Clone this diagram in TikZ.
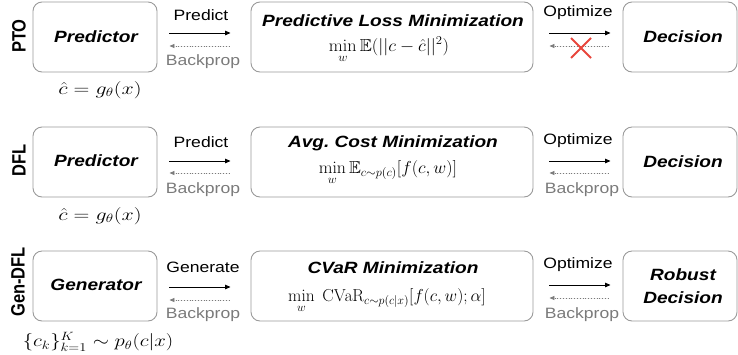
\documentclass[tikz,border=0pt]{standalone}
\usepackage[no-math]{fontspec}
\setmainfont{Liberation Sans}
\usepackage{amsmath,amssymb}
\usetikzlibrary{arrows.meta,shapes.misc}

\definecolor{boxgray}{HTML}{9A9A9A}
\definecolor{softgray}{HTML}{7A7A7A}
\definecolor{crossred}{HTML}{E8453C}

% slightly widened lettering
\newcommand{\wide}[1]{\scalebox{1.17}[1]{#1}}
\newcommand{\tall}[1]{\scalebox{1}[1.17]{#1}}
\newcommand{\mwide}[1]{\scalebox{1.27}[1]{#1}}

\tikzset{
  stage/.style={draw=boxgray, line width=0.9pt, rounded corners=9pt,
    minimum height=70pt, inner sep=0pt},
  predbox/.style={stage, minimum width=124pt},
  optbox/.style={stage, minimum width=282pt},
  decbox/.style={stage, minimum width=114pt},
  title/.style={font=\fontsize{16.3}{19}\selectfont\bfseries\itshape, inner sep=0pt},
  label/.style={font=\fontsize{15}{17}\selectfont, inner sep=0pt},
  backlabel/.style={label, text=softgray},
  method/.style={font=\fontsize{16.5}{19}\selectfont\bfseries, rotate=90, inner sep=0pt},
  boxmath/.style={font=\fontsize{17.28}{20}\selectfont, inner sep=0pt},
  outmath/.style={font=\fontsize{17.28}{20}\selectfont, inner sep=0pt},
  fwd/.style={-{Triangle[length=5.5pt,width=4.5pt]}, line width=0.9pt},
  bwd/.style={-{Triangle[length=5pt,width=4pt]}, draw=softgray, fill=softgray,
    line width=0.8pt, dotted},
}

\begin{document}
\begin{tikzpicture}[x=1pt,y=-1pt]
\useasboundingbox (0,0) rectangle (738,354);

% ---------- PTO ----------
\node[method] (m1) at (19,36) {\tall{PTO}};
\node[predbox] (p1) at (95,37) {};
\node[title] (p1t) at (96,37) {\wide{Predictor}};
\node[optbox] (o1) at (392,37) {};
\node[title] (o1t) at (393,21) {\wide{Predictive Loss Minimization}};
\node[boxmath] (o1m) at (389,50) {\scalebox{1.05}[1]{$\displaystyle\min_{w}\mathbb{E}(||c-\hat{c}||^2)$}};
\node[decbox] (d1) at (680,37) {};
\node[title] (d1t) at (683,37) {\wide{Decision}};
\node[outmath] (g1) at (100,90) {\mwide{$\hat{c}=g_\theta(x)$}};

\node[label] (a1) at (201,15) {\wide{Predict}};
\node[backlabel] (b1) at (203,62) {\wide{Backprop}};
\draw[fwd] ([yshift=4pt]p1.east) -- ([yshift=4pt]o1.west)
  [shorten <=12pt, shorten >=20pt];
\draw[bwd] ([yshift=-9pt]o1.west) -- ([yshift=-9pt]p1.east)
  [shorten <=21pt, shorten >=12pt];

\node[label] (c1) at (578,13) {\wide{Optimize}};
\draw[fwd] ([yshift=4pt]o1.east) -- ([yshift=4pt]d1.west)
  [shorten <=16pt, shorten >=12pt];
\draw[bwd] ([yshift=-9pt]d1.west) -- ([yshift=-9pt]o1.east)
  [shorten <=14pt, shorten >=16pt];
\node[cross out, draw=crossred, line width=2pt, minimum size=18pt,
  inner sep=0pt] (x1) at (581,48) {};

% ---------- DFL ----------
\node[method] (m2) at (19,160) {\tall{DFL}};
\node[predbox] (p2) at (95,162) {};
\node[title] (p2t) at (96,161) {\wide{Predictor}};
\node[optbox] (o2) at (392,162) {};
\node[title] (o2t) at (393,143) {\wide{Avg.\ Cost Minimization}};
\node[boxmath] (o2m) at (388,173) {\scalebox{1.03}[1]{$\displaystyle\min_{w}\mathbb{E}_{c\sim p(c)}[f(c,w)]$}};
\node[decbox] (d2) at (680,162) {};
\node[title] (d2t) at (683,162) {\wide{Decision}};
\node[outmath] (g2) at (100,216) {\mwide{$\hat{c}=g_\theta(x)$}};

\node[label] (a2) at (201,142) {\wide{Predict}};
\node[backlabel] (b2) at (203,190) {\wide{Backprop}};
\draw[fwd] ([yshift=1pt]p2.east) -- ([yshift=1pt]o2.west)
  [shorten <=12pt, shorten >=20pt];
\draw[bwd] ([yshift=-11pt]o2.west) -- ([yshift=-11pt]p2.east)
  [shorten <=21pt, shorten >=12pt];

\node[label] (c2) at (578,141) {\wide{Optimize}};
\node[backlabel] (e2) at (582,190) {\wide{Backprop}};
\draw[fwd] ([yshift=1pt]o2.east) -- ([yshift=1pt]d2.west)
  [shorten <=16pt, shorten >=12pt];
\draw[bwd] ([yshift=-11pt]d2.west) -- ([yshift=-11pt]o2.east)
  [shorten <=14pt, shorten >=16pt];

% ---------- Gen-DFL ----------
\node[method] (m3) at (18,282) {\tall{Gen-DFL}};
\node[predbox] (p3) at (95,286) {};
\node[title] (p3t) at (96,285) {\wide{Generator}};
\node[optbox] (o3) at (392,286) {};
\node[title] (o3t) at (393,268) {\wide{CVaR Minimization}};
\node[boxmath] (o3m) at (387,301) {$\displaystyle\min_{w}\ \mathrm{CVaR}_{c\sim p(c|x)}[f(c,w);\alpha]$};
\node[decbox] (d3) at (680,286) {};
\node[title] (d3t) at (683,275) {\wide{Robust}};
\node[title] (d3u) at (683,298) {\wide{Decision}};
\node[outmath] (g3) at (98,342) {\scalebox{1.2}[1]{$\{c_k\}_{k=1}^{K}\sim p_\theta(c|x)$}};

\node[label] (a3) at (203,267) {\wide{Generate}};
\node[backlabel] (b3) at (203,315) {\wide{Backprop}};
\draw[fwd] ([yshift=-1pt]p3.east) -- ([yshift=-1pt]o3.west)
  [shorten <=12pt, shorten >=20pt];
\draw[bwd] ([yshift=-14pt]o3.west) -- ([yshift=-14pt]p3.east)
  [shorten <=21pt, shorten >=12pt];

\node[label] (c3) at (578,265) {\wide{Optimize}};
\node[backlabel] (e3) at (582,315) {\wide{Backprop}};
\draw[fwd] ([yshift=1pt]o3.east) -- ([yshift=1pt]d3.west)
  [shorten <=16pt, shorten >=12pt];
\draw[bwd] ([yshift=-12pt]d3.west) -- ([yshift=-12pt]o3.east)
  [shorten <=14pt, shorten >=16pt];
\end{tikzpicture}
\end{document}
